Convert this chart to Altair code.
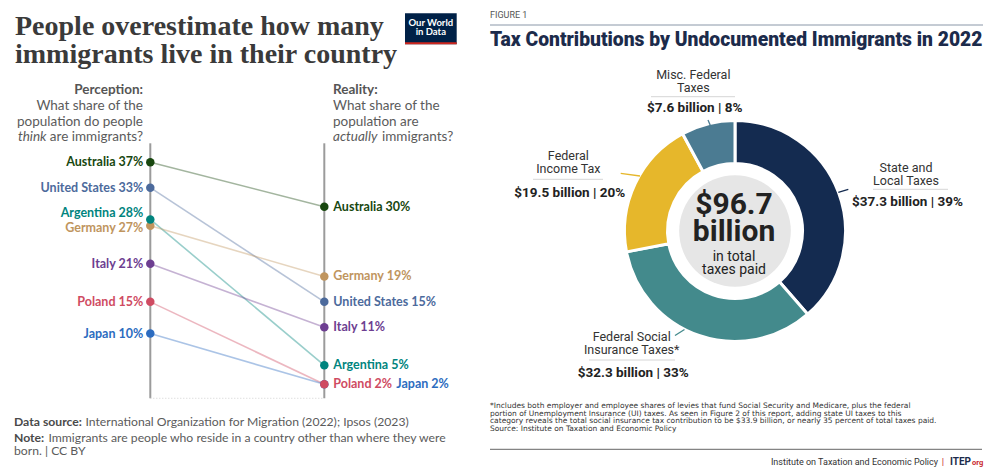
import altair as alt
import pandas as pd

# ---------------- data: left chart (Our World in Data) ----------------
countries = ["Australia", "United States", "Argentina", "Germany", "Italy", "Poland", "Japan"]
perception = [37, 33, 28, 27, 21, 15, 10]
reality = [30, 15, 5, 19, 11, 2, 2]
country_colors = ["#18470f", "#4c6a9c", "#00847e", "#c0955e", "#6d3e91", "#cf4b62", "#2c6cc0"]

# ---------------- data: right chart (ITEP) ----------------
tax_categories = ["State and Local Taxes", "Federal Social Insurance Taxes*",
                  "Federal Income Tax", "Misc. Federal Taxes"]
tax_label_lines = [["State and", "Local Taxes"], ["Federal Social", "Insurance Taxes*"],
                   ["Federal", "Income Tax"], ["Misc. Federal", "Taxes"]]
tax_billions = [37.3, 32.3, 19.5, 7.6]
tax_shares = [39, 33, 20, 8]
tax_colors = ["#142b50", "#438a8c", "#e6b72b", "#4b7b92"]
total_billions = 96.7

footnote_lines = [
    "*Includes both employer and employee shares of levies that fund Social Security and Medicare, plus the federal",
    "portion of Unemployment Insurance (UI) taxes. As seen in Figure 2 of this report, adding state UI taxes to this",
    "category reveals the total social insurance tax contribution to be $33.9 billion, or nearly 35 percent of total taxes paid.",
    "Source: Institute on Taxation and Economic Policy",
]

# ---------------- helpers ----------------
ONE = pd.DataFrame({"_": [0]})


def txt(text, x, y, size, color="#333", weight="normal", align="left",
        baseline="middle", font="Lato", style="normal", line_height=None):
    kw = dict(text=text, fontSize=size, color=color, fontWeight=weight, align=align,
              baseline=baseline, font=font, fontStyle=style)
    if line_height is not None:
        kw["lineHeight"] = line_height
    return alt.Chart(ONE).mark_text(**kw).encode(x=alt.value(x), y=alt.value(y))


def seg(x1, y1, x2, y2, color, width=1.0):
    return alt.Chart(ONE).mark_rule(color=color, strokeWidth=width).encode(
        x=alt.value(x1), x2=alt.value(x2), y=alt.value(y1), y2=alt.value(y2))


def box(x1, y1, x2, y2, color):
    return alt.Chart(ONE).mark_rect(color=color).encode(
        x=alt.value(x1), x2=alt.value(x2), y=alt.value(y1), y2=alt.value(y2))


# ---------------- left panel ----------------
LW, H = 467, 458
rows = []
for i, c in enumerate(countries):
    rows.append(dict(country=c, side=0, value=perception[i], idx=i))
    rows.append(dict(country=c, side=1, value=reality[i], idx=i))
slope = pd.DataFrame(rows)

xs = alt.Scale(domain=[0, 1], range=[142.3, 316.3])
ys = alt.Scale(domain=[0, 40], range=[389, 135.3])
cs = alt.Scale(domain=countries, range=country_colors)

base = alt.Chart(slope)
axes_df = pd.DataFrame({"side": [0, 1], "top": [40, 40], "bottom": [-0.2, -0.2]})
axes = alt.Chart(axes_df).mark_rule(color="#9b9b9b", strokeWidth=2).encode(
    x=alt.X("side:Q", scale=xs, axis=None),
    y=alt.Y("top:Q", scale=ys, axis=None), y2="bottom:Q")
baseline_df = pd.DataFrame({"a": [0], "b": [1], "v": [-0.2]})
base_rule = alt.Chart(baseline_df).mark_rule(color="#d0d0d0", strokeDash=[1, 2]).encode(
    x=alt.X("a:Q", scale=xs, axis=None), x2="b:Q", y=alt.Y("v:Q", scale=ys, axis=None))

lines = base.mark_line(strokeWidth=1.6, opacity=0.4).encode(
    x=alt.X("side:Q", scale=xs, axis=None),
    y=alt.Y("value:Q", scale=ys, axis=None),
    color=alt.Color("country:N", scale=cs, legend=None),
    detail="country:N")
points = base.mark_circle(size=72, opacity=1).encode(
    x=alt.X("side:Q", scale=xs, axis=None),
    y=alt.Y("value:Q", scale=ys, axis=None),
    color=alt.Color("country:N", scale=cs, legend=None),
    order=alt.Order("idx:Q", sort="descending"))

lbl_enc = dict(
    x=alt.X("side:Q", scale=xs, axis=None),
    y=alt.Y("ly:Q", scale=ys, axis=None),
    color=alt.Color("country:N", scale=cs, legend=None),
    text="label:N")
left_labels = base.transform_filter("datum.side == 0").transform_calculate(
    label="datum.country + ' ' + datum.value + '%'",
    ly="datum.value + (datum.country == 'Argentina' ? 0.95 : (datum.country == 'Germany' ? -0.36 : 0))"
).mark_text(align="right", baseline="middle", dx=-7, font="Lato", fontSize=12.5,
            fontWeight="bold").encode(**lbl_enc)
right_labels = base.transform_filter("datum.side == 1 && datum.country != 'Japan'").transform_calculate(
    label="datum.country + ' ' + datum.value + '%'", ly="datum.value"
).mark_text(align="left", baseline="middle", dx=9, font="Lato", fontSize=12.5,
            fontWeight="bold").encode(**lbl_enc)
japan_label = base.transform_filter("datum.side == 1 && datum.country == 'Japan'").transform_calculate(
    label="datum.country + ' ' + datum.value + '%'", ly="datum.value"
).mark_text(align="left", baseline="middle", dx=72, font="Lato", fontSize=12.5,
            fontWeight="bold").encode(**lbl_enc)

TITLE_C = "#3a3a3a"
HEAD_C = "#5b5b5b"
FS = 12.2
left_layers = [
    axes, base_rule, lines, points, left_labels, right_labels, japan_label,
    txt("People overestimate how many", 7, 27, 28, TITLE_C, "bold", baseline="alphabetic",
        font="Liberation Serif"),
    txt("immigrants live in their country", 7, 55, 28, TITLE_C, "bold", baseline="alphabetic",
        font="Liberation Serif"),
    box(397, 5.3, 448.7, 36.3, "#002147"),
    box(397, 34.3, 448.7, 36.3, "#ce261e"),
    txt("Our World", 422.8, 15.3, 9.5, "white", "bold", align="center"),
    txt("in Data", 422.8, 24.3, 9.5, "white", "bold", align="center"),
    txt("Perception:", 135, 82, 13.5, "#555", "bold", align="right"),
    txt("What share of the", 135, 98, 13.5, HEAD_C, align="right"),
    txt("population do people", 135, 113.7, 13.5, HEAD_C, align="right"),
    txt("are immigrants?", 135, 128.7, 13.5, HEAD_C, align="right"),
    txt("think", 38.5, 128.7, 13.5, HEAD_C, align="right", style="italic"),
    txt("Reality:", 325, 82, 13.5, "#555", "bold"),
    txt("What share of the", 325, 98, 13.5, HEAD_C),
    txt("population are", 325, 113.7, 13.5, HEAD_C),
    txt("actually", 325, 128.7, 13.5, HEAD_C, style="italic"),
    txt("immigrants?", 374, 128.7, 13.5, HEAD_C),
    txt("Data source:", 6, 414, FS, "#4a4a4a", "bold"),
    txt("International Organization for Migration (2022); Ipsos (2023)", 77.5, 414, FS, HEAD_C),
    txt("Note:", 6, 429.5, FS, "#4a4a4a", "bold"),
    txt("Immigrants are people who reside in a country other than where they were", 40.5, 429.5, FS, HEAD_C),
    txt("born. | CC BY", 6, 442.5, FS, HEAD_C),
]
left = alt.layer(*left_layers).properties(width=LW, height=H)

# ---------------- right panel ----------------
RW = 517
CX, CY = 260, 223
donut = pd.DataFrame({"category": tax_categories, "value": tax_billions,
                      "idx": list(range(len(tax_categories)))})
arcs = alt.Chart(donut).mark_arc(outerRadius=110.5, innerRadius=67.5, stroke="white",
                                 strokeWidth=3, strokeJoin="round").encode(
    theta=alt.Theta("value:Q", stack=True),
    color=alt.Color("category:N", scale=alt.Scale(domain=tax_categories, range=tax_colors),
                    legend=None),
    order=alt.Order("idx:Q"),
    x=alt.value(CX), y=alt.value(CY))
disc = alt.Chart(ONE).mark_circle(size=3.14159 * 63 * 63, color="#e6e6e6", opacity=1).encode(
    x=alt.value(CX), y=alt.value(CY))

NAVY = "#1c2b4b"
LBL = "#333333"
BOLD = "#222222"


def money(i):
    return f"${tax_billions[i]} billion | {tax_shares[i]}%"


# label anchors: (center x, first line y, underline x1, x2, underline y, bold y, leader)
label_layout = [
    (431.0, 160.3, 398, 473, 181.3, 193.7, (363.3, 184.3, 373.3, 181.3)),
    (156.7, 329.3, 114, 200, 352.0, 364.7, (200.0, 327.5, 209.5, 321.5)),
    (93.3, 148.0, 58, 128, 171.3, 184.7, (145.7, 165.3, 165.0, 168.0)),
    (218.3, 67.0, 176, 260, 88.7, 100.3, (233.0, 112.0, 236.0, 119.0)),
]
label_layers = []
for i, (cx, y0, ux1, ux2, uy, by, ld) in enumerate(label_layout):
    label_layers.append(txt(tax_label_lines[i], cx, y0, 12.5, LBL, align="center",
                            baseline="middle", font="Roboto", line_height=12.7))
    label_layers.append(seg(ux1, uy, ux2, uy, "#d6d6d6", 1))
    label_layers.append(txt(money(i), cx + 1.5, by, 13.5, BOLD, "bold", align="center",
                            font="Roboto"))
    label_layers.append(seg(ld[0], ld[1], ld[2], ld[3], tax_colors[i], 1.3))

right_layers = [
    txt("FIGURE 1", 15, 7, 9, "#555", font="Roboto"),
    seg(15, 17, 508, 17, "#8a97a8", 1),
    txt("Tax Contributions by Undocumented Immigrants in 2022", 15, 32, 19.3, NAVY, 900,
        font="Roboto"),
    arcs, disc,
    txt(f"${total_billions}", CX - 1, 197, 30, "#222", "bold", align="center", font="Roboto"),
    txt("billion", CX - 1, 224, 30, "#222", "bold", align="center", font="Roboto"),
    txt("in total", CX - 1, 248.7, 14, "#222", align="center", font="Roboto"),
    txt("taxes paid", CX - 1, 261.5, 14, "#222", align="center", font="Roboto"),
    *label_layers,
    txt(footnote_lines, 15, 397.7, 7.5, "#333", font="DejaVu Sans", baseline="middle",
        line_height=7.9),
    seg(15, 441.3, 507, 441.3, "#666", 1),
    txt("Institute on Taxation and Economic Policy", 463, 453.7, 9, "#333", align="right",
        font="Roboto"),
    txt("|", 468, 453.7, 9.5, "#c8262e", align="center", font="Roboto"),
    txt("ITEP", 475, 453.7, 10, NAVY, "bold", font="Roboto"),
    txt("org", 497, 454.5, 7.5, "#c8262e", "bold", font="Roboto"),
]
right = alt.layer(*right_layers).properties(width=RW, height=H)

chart = alt.hconcat(left, right, spacing=0).resolve_scale(color="independent").properties(
    padding=0, background="white"
).configure_view(stroke=None)

chart.save("out.html", embed_options={"renderer": "svg", "actions": False})
